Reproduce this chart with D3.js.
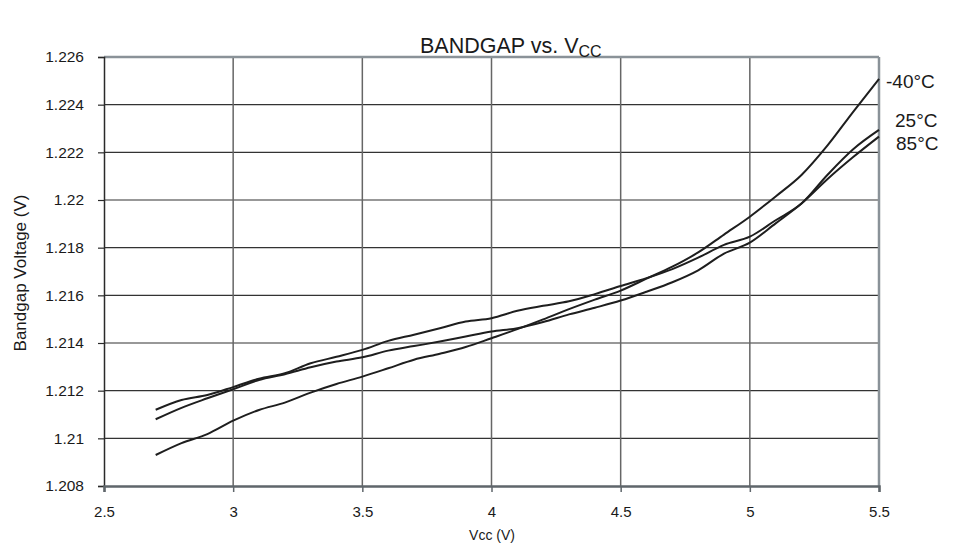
<!DOCTYPE html>
<html>
<head>
<meta charset="utf-8">
<script src="https://cdn.jsdelivr.net/npm/d3@7"></script>
<style>
  html, body { margin: 0; padding: 0; background: #fff; }
  svg { display: block; font-family: "Liberation Sans", Arial, sans-serif; }
</style>
</head>
<body>
<svg id="chart" width="965" height="552"></svg>
<script>
// ---- data ----
const vcc = [2.7, 2.8, 2.9, 3.0, 3.1, 3.2, 3.3, 3.4, 3.5, 3.6, 3.7, 3.8, 3.9, 4.0,
             4.1, 4.2, 4.3, 4.4, 4.5, 4.6, 4.7, 4.8, 4.9, 5.0, 5.1, 5.2, 5.3, 5.4, 5.5];
const tempM40 = [1.2093, 1.2098, 1.21018, 1.21074, 1.21119, 1.2115, 1.21192, 1.21228, 1.21259, 1.21294,
                 1.2133, 1.21355, 1.21383, 1.2142, 1.21458, 1.21499, 1.21542, 1.21582, 1.2162, 1.2167,
                 1.2172, 1.2178, 1.21855, 1.2193, 1.22015, 1.22105, 1.22228, 1.2237, 1.22508];
const temp25 = [1.2112, 1.21161, 1.21182, 1.21215, 1.2125, 1.21273, 1.21315, 1.21342, 1.21371, 1.21409,
                1.21435, 1.21462, 1.2149, 1.21504, 1.21535, 1.21556, 1.21575, 1.21605, 1.21639, 1.21672,
                1.2171, 1.21758, 1.21812, 1.21846, 1.21915, 1.21985, 1.22105, 1.22213, 1.22294];
const temp85 = [1.2108, 1.21128, 1.21168, 1.21206, 1.21245, 1.21269, 1.21298, 1.21322, 1.2134, 1.21368,
                1.21387, 1.21406, 1.21427, 1.21448, 1.21462, 1.21488, 1.2152, 1.21548, 1.21578, 1.21615,
                1.21655, 1.21705, 1.21775, 1.21821, 1.21902, 1.21985, 1.22087, 1.2218, 1.22266];
const seriesNames = ["-40°C", "25°C", "85°C"];
const xTicks = [2.5, 3, 3.5, 4, 4.5, 5, 5.5];
const xTickLabels = ["2.5", "3", "3.5", "4", "4.5", "5", "5.5"];
const yTicks = [1.208, 1.21, 1.212, 1.214, 1.216, 1.218, 1.22, 1.222, 1.224, 1.226];
const yTickLabels = ["1.208", "1.21", "1.212", "1.214", "1.216", "1.218", "1.22", "1.222", "1.224", "1.226"];

const series = [tempM40, temp25, temp85].map((vals, i) => ({
  name: seriesNames[i],
  points: vcc.map((v, j) => ({ x: v, y: vals[j] }))
}));

// ---- layout ----
const svg = d3.select("#chart");
const pLeft = 104, pRight = 879, pTop = 57, pBottom = 486;
const x = d3.scaleLinear().domain([2.5, 5.5]).range([pLeft, pRight]);
const y = d3.scaleLinear().domain([1.208, 1.226]).range([pBottom, pTop]);

// gridlines
svg.append("g").selectAll("line").data(yTicks.slice(1, -1)).join("line")
  .attr("x1", pLeft).attr("x2", pRight)
  .attr("y1", d => y(d)).attr("y2", d => y(d))
  .attr("stroke", "#333").attr("stroke-width", 1.2);
svg.append("g").selectAll("line").data(xTicks.slice(1, -1)).join("line")
  .attr("y1", pTop).attr("y2", pBottom)
  .attr("x1", d => x(d)).attr("x2", d => x(d))
  .attr("stroke", "#666").attr("stroke-width", 1.5);

// frame top & right
svg.append("line").attr("x1", pLeft).attr("x2", pRight).attr("y1", pTop).attr("y2", pTop)
  .attr("stroke", "#8a9298").attr("stroke-width", 2.5);
svg.append("line").attr("x1", pRight).attr("x2", pRight).attr("y1", pTop).attr("y2", pBottom)
  .attr("stroke", "#8a9298").attr("stroke-width", 2.5);

// axes
const yAxis = d3.axisLeft(y).tickValues(yTicks).tickFormat((d, i) => yTickLabels[i])
  .tickSize(6).tickPadding(14);
const gy = svg.append("g").attr("transform", `translate(${pLeft},0)`).call(yAxis);
gy.select(".domain").attr("stroke", "#2a2a2a").attr("stroke-width", 1.5);
gy.selectAll(".tick line").attr("stroke", "#2a2a2a").attr("stroke-width", 1.2);
gy.selectAll(".tick text").attr("font-size", 15.5).attr("fill", "#1a1a1a")
  .attr("font-family", "'Liberation Sans', Arial, sans-serif");

const xAxis = d3.axisBottom(x).tickValues(xTicks).tickFormat((d, i) => xTickLabels[i])
  .tickSize(6).tickPadding(14);
const gx = svg.append("g").attr("transform", `translate(0,${pBottom})`).call(xAxis);
gx.select(".domain").attr("stroke", "#5f666b").attr("stroke-width", 2.5);
gx.selectAll(".tick line").attr("stroke", "#5f666b").attr("stroke-width", 1.5);
gx.selectAll(".tick text").attr("font-size", 15).attr("fill", "#1a1a1a")
  .attr("font-family", "'Liberation Sans', Arial, sans-serif");

// lines
const line = d3.line().x(d => x(d.x)).y(d => y(d.y)).curve(d3.curveMonotoneX);
svg.append("g").selectAll("path").data(series).join("path")
  .attr("d", d => line(d.points))
  .attr("fill", "none").attr("stroke", "#1e1e1e").attr("stroke-width", 2);

// series labels
const labelPos = [{ x: 886, y: 88 }, { x: 895, y: 127 }, { x: 896, y: 150 }];
svg.append("g").selectAll("text").data(series).join("text")
  .attr("x", (d, i) => labelPos[i].x).attr("y", (d, i) => labelPos[i].y)
  .attr("font-size", 19).attr("fill", "#1a1a1a")
  .text(d => d.name);

// title
const title = svg.append("text").attr("x", 420).attr("y", 53).attr("text-anchor", "start")
  .attr("font-size", 21.5).attr("fill", "#1a1a1a");
title.append("tspan").text("BANDGAP vs. V");
title.append("tspan").attr("font-size", 16).attr("dy", 4).text("CC");

// axis titles
svg.append("text").attr("x", 492).attr("y", 540).attr("text-anchor", "middle")
  .attr("font-size", 14).attr("fill", "#1a1a1a").text("Vcc (V)");
svg.append("text").attr("transform", "translate(26,273) rotate(-90)")
  .attr("text-anchor", "middle").attr("font-size", 17).attr("fill", "#1a1a1a")
  .text("Bandgap Voltage (V)");
</script>
</body>
</html>
